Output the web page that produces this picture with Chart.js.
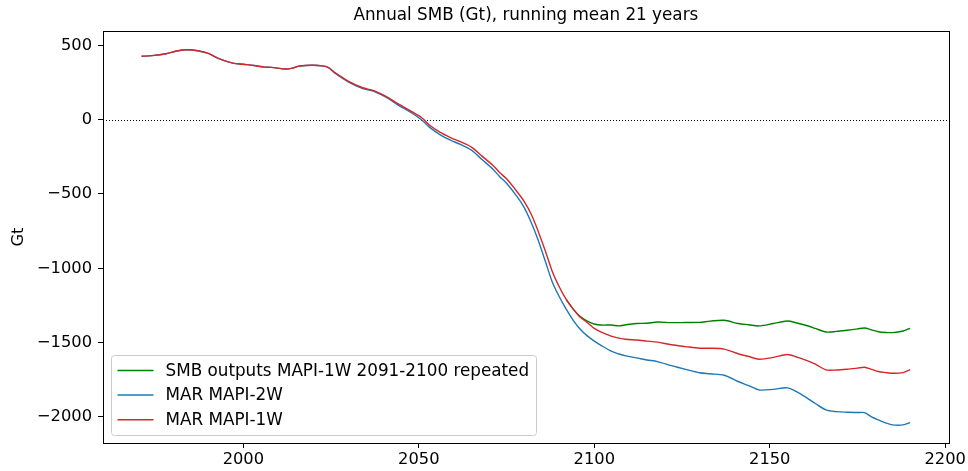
<!doctype html>
<html>
<head>
<meta charset="utf-8">
<title>Annual SMB</title>
<script src="https://cdn.jsdelivr.net/npm/chart.js@4/dist/chart.umd.min.js"></script>
<style>
  body { margin: 0; background: #fff; }
  #wrap { width: 968px; height: 471px; }
</style>
</head>
<body>
<div id="wrap"><canvas id="canvas" width="968" height="471"></canvas></div>
<script>
// values
var years = [1971, 1974, 1978, 1981, 1984, 1987, 1990, 1993, 1997, 2000, 2003, 2006, 2008, 2012, 2014, 2016,
  2020, 2024, 2026, 2030, 2034, 2037, 2041, 2044, 2048, 2051, 2053, 2056, 2059, 2062, 2065, 2068, 2071, 2073,
  2075, 2078, 2080, 2082, 2084, 2086, 2088, 2090, 2092, 2094, 2096, 2098, 2100, 2102, 2105, 2107, 2109, 2112,
  2115, 2118, 2122, 2126, 2130, 2133, 2137, 2141, 2144, 2147, 2151, 2155, 2158, 2160, 2163, 2166, 2169, 2172,
  2175, 2177, 2179, 2181, 2183, 2185, 2188, 2190];

var marMapi1w = [427, 431, 444, 462, 471, 464, 446, 411, 381, 373, 365, 354, 352, 341, 347, 361,
  366, 354, 318, 258, 215, 197, 152, 108, 54, 10, -36, -84, -120, -150, -185, -245, -305, -355,
  -398, -485, -550, -635, -750, -880, -1020, -1124, -1210, -1275, -1330, -1365, -1405, -1430, -1458, -1470, -1478, -1483,
  -1490, -1497, -1515, -1527, -1538, -1538, -1544, -1575, -1594, -1612, -1600, -1580, -1600, -1616, -1645, -1684, -1685, -1680,
  -1672, -1666, -1680, -1695, -1702, -1707, -1702, -1682];

var marMapi2w = [427, 431, 444, 462, 471, 464, 446, 411, 381, 373, 365, 354, 352, 341, 347, 361,
  366, 354, 314, 253, 210, 192, 146, 100, 45, -5, -50, -100, -138, -168, -205, -268, -330, -382,
  -428, -518, -590, -690, -810, -950, -1090, -1190, -1275, -1350, -1410, -1455, -1490, -1520, -1560, -1577, -1590, -1603,
  -1617, -1628, -1655, -1680, -1703, -1710, -1720, -1762, -1790, -1819, -1815, -1805, -1835, -1864, -1910, -1953, -1965, -1969,
  -1971, -1972, -2000, -2021, -2040, -2054, -2054, -2039];

var smbRepeated = [null, null, null, null, null, null, null, null, null, null, null, null, null, null, null, null,
  null, null, null, null, null, null, null, null, null, null, null, null, null, null, null, null, null, null,
  null, null, null, null, null, null, null, null, -1210, -1275, -1325, -1355, -1375, -1382, -1382, -1388, -1380, -1372,
  -1370, -1362, -1366, -1365, -1364, -1356, -1350, -1372, -1380, -1388, -1372, -1355, -1370, -1382, -1405, -1429, -1425, -1417,
  -1408, -1402, -1415, -1427, -1432, -1433, -1422, -1404];

var xTicks = [2000, 2050, 2100, 2150, 2200];
var yTicks = [-2000, -1500, -1000, -500, 0, 500];

var titleText = 'Annual SMB (Gt), running mean 21 years';
var seriesNames = ['SMB outputs MAPI-1W 2091-2100 repeated', 'MAR MAPI-2W', 'MAR MAPI-1W'];
var seriesColors = ['#008000', '#1f77b4', '#d62728'];

function toPoints(vals) {
  var pts = [];
  for (var i = 0; i < years.length; i++) {
    if (vals[i] !== null) pts.push({x: years[i], y: vals[i]});
  }
  return pts;
}

var FONT = "'DejaVu Sans', sans-serif";

// title over the plot, frame, zero line and the legend box
var extras = {
  id: 'extras',
  beforeDatasetsDraw: function(chart) {
    var ctx = chart.ctx, a = chart.chartArea;
    var y0 = chart.scales.y.getPixelForValue(0);
    ctx.save();
    ctx.strokeStyle = '#000';
    ctx.lineWidth = 1;
    ctx.setLineDash([1, 2]);
    ctx.beginPath();
    ctx.moveTo(a.left, Math.round(y0) + 0.5);
    ctx.lineTo(a.right, Math.round(y0) + 0.5);
    ctx.stroke();
    ctx.restore();
  },
  afterDatasetsDraw: function(chart) {
    var ctx = chart.ctx, a = chart.chartArea;
    ctx.save();
    ctx.strokeStyle = '#000';
    ctx.lineWidth = 1;
    ctx.strokeRect(Math.round(a.left) + 0.5, Math.round(a.top) + 0.5,
      Math.round(a.right - a.left), Math.round(a.bottom - a.top));

    ctx.fillStyle = '#000';
    ctx.font = '16.8px ' + FONT;
    ctx.textAlign = 'center';
    ctx.textBaseline = 'middle';
    ctx.fillText(titleText, (a.left + a.right) / 2, 16);

    // legend
    var bx = a.left + 8.5, by = a.bottom - 87.5, bw = 425, bh = 80;
    ctx.fillStyle = 'rgba(255,255,255,0.8)';
    ctx.strokeStyle = '#cccccc';
    ctx.beginPath();
    ctx.roundRect(bx, by, bw, bh, 3);
    ctx.fill();
    ctx.stroke();
    ctx.textAlign = 'left';
    for (var i = 0; i < seriesNames.length; i++) {
      var ly = by + 15 + i * 24.6;
      ctx.strokeStyle = seriesColors[i];
      ctx.lineWidth = 1.5;
      ctx.beginPath();
      ctx.moveTo(bx + 6, ly);
      ctx.lineTo(bx + 42, ly);
      ctx.stroke();
      ctx.fillStyle = '#000';
      ctx.fillText(seriesNames[i], bx + 54, ly + 1);
    }
    ctx.restore();
  }
};

var datasets = [smbRepeated, marMapi2w, marMapi1w].map(function(vals, i) {
  return {
    label: seriesNames[i],
    data: toPoints(vals),
    borderColor: seriesColors[i],
    backgroundColor: seriesColors[i],
    borderWidth: 1.4,
    pointRadius: 0,
    tension: 0.3,
    fill: false,
    order: 2 - i   // red drawn last, on top
  };
});

var config = {
  type: 'line',
  data: { datasets: datasets },
  options: {
    responsive: false,
    animation: false,
    devicePixelRatio: 1,
    layout: { padding: { left: 0, right: 18, top: 31, bottom: 0 } },
    plugins: {
      legend: { display: false },
      tooltip: { enabled: false },
      title: { display: false }
    },
    scales: {
      x: {
        type: 'linear',
        min: 1960,
        max: 2201,
        afterFit: function(s) { s.height = 28; },
        afterBuildTicks: function(s) { s.ticks = xTicks.map(function(v) { return {value: v}; }); },
        grid: { drawOnChartArea: false, drawTicks: true, tickLength: 5, color: '#000' },
        border: { display: true, color: '#000', width: 1 },
        ticks: {
          color: '#000',
          font: { family: FONT, size: 16.3 },
          padding: 2,
          maxRotation: 0,
          callback: function(v) { return String(v); }
        }
      },
      y: {
        type: 'linear',
        min: -2176,
        max: 597,
        afterFit: function(s) { s.width = 103; },
        afterBuildTicks: function(s) { s.ticks = yTicks.map(function(v) { return {value: v}; }); },
        grid: { drawOnChartArea: false, drawTicks: true, tickLength: 5, color: '#000' },
        border: { display: true, color: '#000', width: 1 },
        title: {
          display: true,
          text: 'Gt',
          color: '#000',
          font: { family: FONT, size: 16.3 },
          padding: { top: 9, bottom: 0 }
        },
        ticks: {
          color: '#000',
          font: { family: FONT, size: 16.3 },
          padding: 6,
          callback: function(v) { return String(v).replace('-', '\u2212'); }
        }
      }
    }
  },
  plugins: [extras]
};

window.myChart = new Chart(document.getElementById('canvas'), config);
</script>
</body>
</html>
